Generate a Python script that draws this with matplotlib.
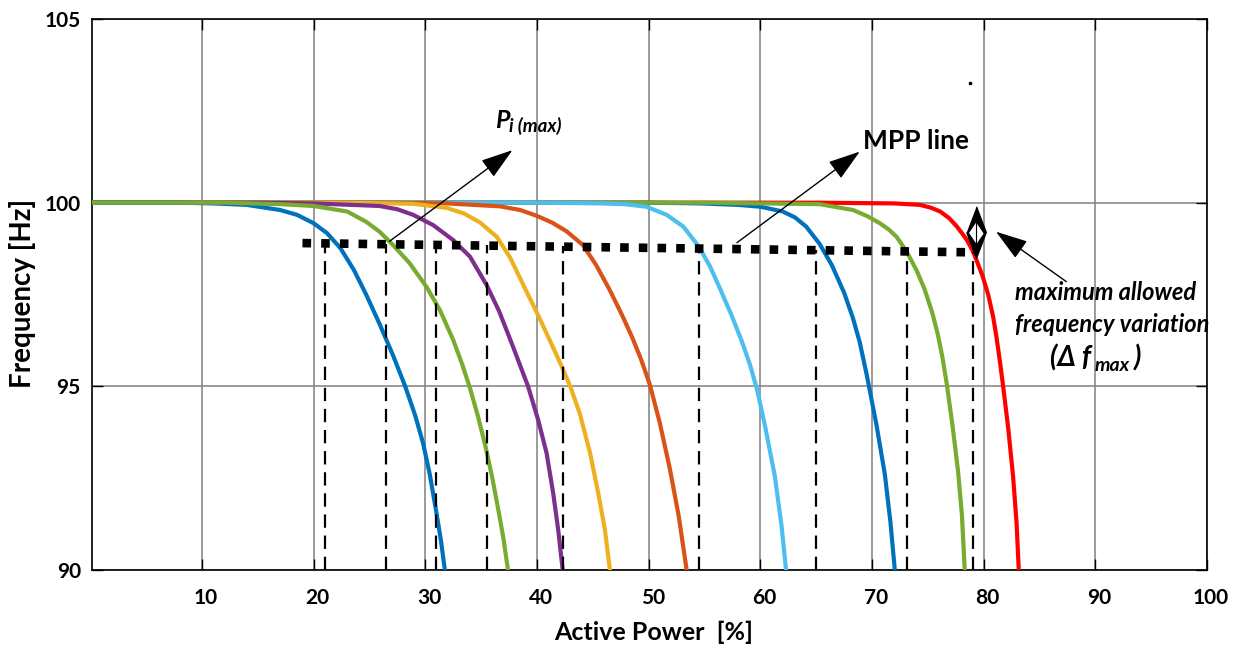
import numpy as np
import matplotlib.pyplot as plt
from matplotlib.transforms import ScaledTranslation

plt.rcParams['font.family'] = ['Lato', 'DejaVu Sans']

# droop curves: active power [%] vs frequency [Hz]
p_blue1 = [0, 8, 11, 14, 17, 18.5, 20, 21.2, 22.4, 23.6, 24.7, 25.9, 27.1, 28.2,
           29.1, 29.8, 30.4, 31.0, 31.4, 31.75]
f_blue1 = [100, 100, 99.98, 99.94, 99.8, 99.67, 99.44, 99.17, 98.76, 98.17, 97.5,
           96.7, 95.85, 95.0, 94.2, 93.45, 92.6, 91.55, 90.8, 90.0]

p_green1 = [0, 12, 17, 20, 23, 24.7, 25.9, 27.1, 28.6, 30.1, 31.3, 32.5, 33.3, 34.0,
            34.7, 35.4, 36.0, 36.5, 37.0, 37.4]
f_green1 = [100, 100, 99.96, 99.91, 99.76, 99.48, 99.21, 98.85, 98.35, 97.71, 97.08,
            96.26, 95.6, 94.95, 94.2, 93.35, 92.5, 91.7, 90.85, 90.0]

p_purple = [0, 15, 20, 25.9, 27.5, 28.9, 30.7, 32.5, 34.0, 35.5, 36.6, 37.7, 39.2,
            40.1, 40.86, 41.45, 41.9, 42.3]
f_purple = [100, 100, 99.98, 99.91, 99.82, 99.67, 99.39, 98.98, 98.53, 97.75, 97.05,
            96.2, 95.0, 94.09, 93.18, 92.09, 91.09, 90.0]

p_yellow = [0, 20, 25, 28.9, 31.9, 33.5, 34.9, 36.4, 37.6, 38.9, 40.0, 41.15, 42.2,
            43.0, 43.84, 44.74, 45.48, 46.08, 46.53]
f_yellow = [100, 100, 99.99, 99.97, 99.86, 99.7, 99.46, 99.07, 98.5, 97.68, 97.0,
            96.25, 95.55, 94.98, 94.25, 93.2, 92.1, 91.1, 90.0]

p_orange = [0, 25, 31.9, 36.7, 38.5, 40.0, 41.4, 42.65, 44.1, 45.3, 46.5, 47.6, 48.5,
            49.3, 50.1, 51.0, 51.9, 52.7, 53.4]
f_orange = [100, 100, 99.98, 99.9, 99.8, 99.64, 99.45, 99.22, 98.85, 98.3, 97.63,
            96.95, 96.35, 95.75, 95.05, 94.0, 92.75, 91.45, 90.0]

p_lblue = [0, 40, 45.6, 47.8, 49.8, 51.6, 53.1, 54.5, 55.5, 56.4, 57.4, 58.3, 59.06,
           59.7, 60.4, 61.3, 61.9, 62.3]
f_lblue = [100, 100, 99.98, 99.96, 99.89, 99.67, 99.35, 98.8, 98.26, 97.65, 96.95,
           96.26, 95.6, 94.92, 93.95, 92.55, 91.2, 90.0]

p_blue2 = [0, 50, 54.6, 58, 60, 62, 63.1, 64.1, 65.3, 66.4, 67.5, 68.3, 68.9, 69.5,
           70.4, 71.15, 71.65, 72.04]
f_blue2 = [100, 100, 99.98, 99.94, 99.89, 99.76, 99.6, 99.35, 98.88, 98.3, 97.55,
           96.85, 96.2, 95.35, 93.95, 92.6, 91.3, 90.0]

p_green2 = [0, 55, 65.3, 68.3, 69.6, 70.7, 71.5, 72.2, 73.1, 74.0, 74.7, 75.4, 75.9,
            76.3, 76.7, 77.2, 77.7, 78.05, 78.3]
f_green2 = [100, 100, 99.96, 99.8, 99.63, 99.44, 99.27, 99.07, 98.67, 98.15, 97.65,
            97.0, 96.4, 95.8, 95.05, 93.95, 92.7, 91.5, 90.0]

p_red = [0, 65, 72, 74.3, 75.3, 76.1, 76.9, 77.6, 78.1, 78.5, 79.0, 79.35, 79.9, 80.4,
         80.84, 81.14, 81.44, 81.7, 82.2, 82.63, 82.94, 83.14]
f_red = [100, 100, 99.98, 99.94, 99.86, 99.76, 99.58, 99.35, 99.15, 98.98, 98.7, 98.44,
         98.0, 97.5, 96.9, 96.35, 95.7, 95.1, 93.85, 92.55, 91.3, 90.0]

# maximum power points and the MPP line through them
mpp_p = [21.0, 26.5, 30.95, 35.5, 42.3, 54.5, 65.0, 73.1, 79.0]
mpp_f = [98.89, 98.87, 98.86, 98.84, 98.81, 98.76, 98.72, 98.68, 98.65]
mpp_line_p = [19.0, 78.6]
mpp_line_f = [98.9, 98.65]

x_ticks = [10, 20, 30, 40, 50, 60, 70, 80, 90, 100]
y_ticks = [90, 95, 100, 105]

fig = plt.figure(figsize=(12.38, 6.46), dpi=100)
ax = fig.add_axes([0.0743, 0.1176, 0.9007, 0.853])

ax.grid(True, color='#808080', lw=1.1, zorder=0)
ax.set_axisbelow(True)

curves = [
    (p_red, f_red, '#FF0000'),
    (p_blue2, f_blue2, '#0072BD'),
    (p_green2, f_green2, '#77AC30'),
    (p_lblue, f_lblue, '#4DBEEE'),
    (p_orange, f_orange, '#D95319'),
    (p_yellow, f_yellow, '#EDB120'),
    (p_purple, f_purple, '#7E2F8E'),
    (p_blue1, f_blue1, '#0072BD'),
    (p_green1, f_green1, '#77AC30'),
]
for i, (p, f, c) in enumerate(curves):
    ax.plot(p, f, color=c, lw=3.0, zorder=3 + i * 0.1, solid_joinstyle='round')

ax.vlines(mpp_p, 90, mpp_f, colors='k', linestyles=(0, (6, 3.5)), lw=1.6, zorder=5)
ax.plot(mpp_line_p, mpp_line_f, color='k', lw=6.2, linestyle=(0, (1, 1.17)),
        dash_capstyle='butt', zorder=6)

arrow = dict(arrowstyle='-|>,head_length=2.0,head_width=0.65', color='k', lw=1.0,
             shrinkA=0, shrinkB=0)
ax.annotate('', xy=(37.8, 101.43), xytext=(26.8, 98.95), arrowprops=arrow, zorder=7)
ax.annotate('', xy=(68.9, 101.39), xytext=(57.9, 98.91), arrowprops=arrow, zorder=7)
ax.annotate('', xy=(81.1, 99.21), xytext=(87.4, 97.85), arrowprops=arrow, zorder=7)

# double-headed marker for the allowed frequency band
ax.plot(79.35, 99.19, marker=[(0, 1), (0.38, 0), (0, -1), (-0.38, 0)], ms=37,
        color='k', zorder=8)
ax.plot(79.35, 99.17, marker=[(0, 1), (0.68, 0), (0, -1), (-0.68, 0)], ms=16.5,
        mfc='white', mec='k', mew=0.8, zorder=9)
ax.plot([79.35, 79.35], [99.45, 98.9], color='k', lw=0.8, zorder=10)

ax.plot(78.75, 103.27, marker='s', ms=1.5, color='k')

ax.text(36.2, 102.03, 'P', fontsize=18, fontweight='bold', style='italic')
ax.text(37.5, 101.93, 'i (max)', fontsize=13.5, fontweight='bold', style='italic')
ax.text(69.17, 101.45, 'MPP line', fontsize=19, fontweight='bold')
ax.text(82.78, 97.35, 'maximum allowed', fontsize=17, fontweight='bold', style='italic')
ax.text(82.78, 96.49, 'frequency variation', fontsize=17, fontweight='bold', style='italic')
ax.text(85.9, 95.54, '(Δ f', fontsize=20, fontweight='bold', style='italic')
ax.text(89.95, 95.43, 'max', fontsize=14, fontweight='bold', style='italic')
ax.text(93.4, 95.54, ')', fontsize=20, fontweight='bold', style='italic')

ax.set_xlim(0.15, 100)
ax.set_ylim(90, 105)
ax.set_xticks(x_ticks)
ax.set_yticks(y_ticks)
ax.tick_params(direction='in', length=8, width=1, top=True, right=True,
               labelsize=15, pad=13)
ax.tick_params(axis='y', pad=8)
for lab in ax.get_xticklabels() + ax.get_yticklabels():
    lab.set_fontweight('bold')
for lab in ax.get_xticklabels():
    lab.set_transform(lab.get_transform() + ScaledTranslation(0.04, 0, fig.dpi_scale_trans))
for s in ax.spines.values():
    s.set_linewidth(1.2)

fig.text(0.0178, 0.5465, 'Frequency [Hz]', rotation=90, fontsize=20, fontweight='bold',
         ha='center', va='center')
fig.text(0.528, 0.021, 'Active Power  [%]', fontsize=18, fontweight='bold',
         ha='center', va='center')

fig.savefig('out.png', dpi=100)
